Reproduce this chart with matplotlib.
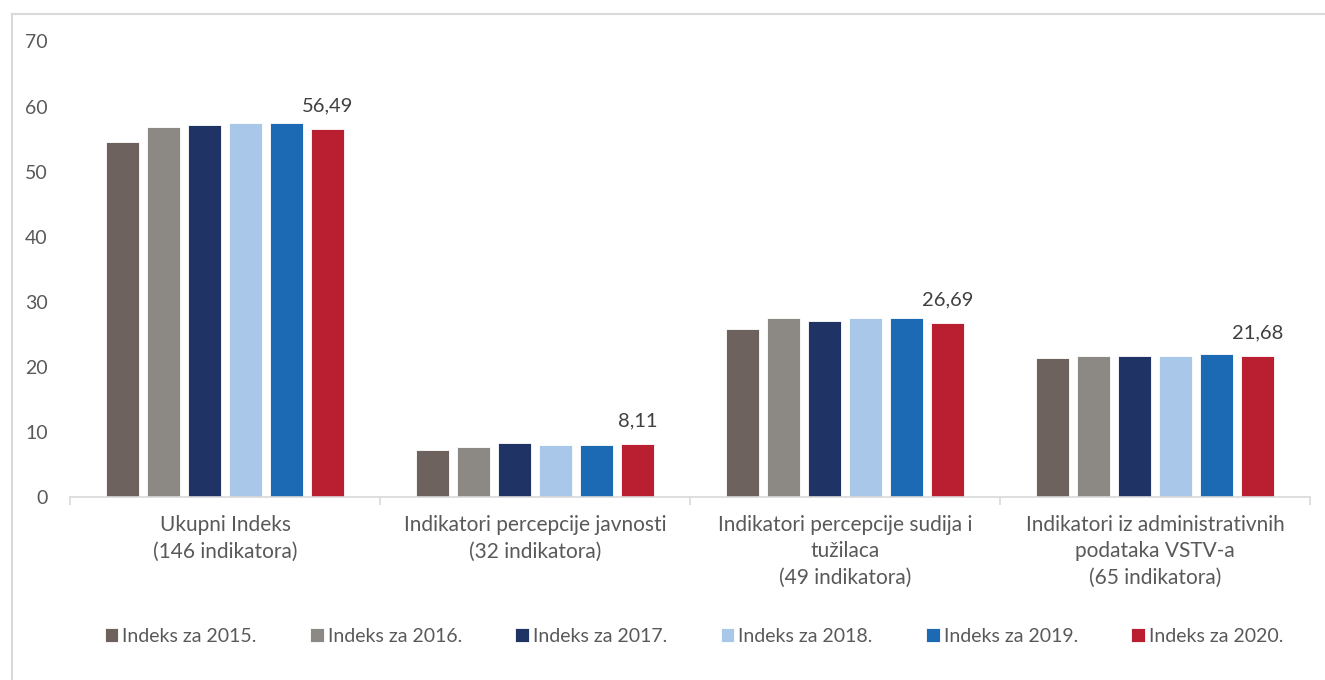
import numpy as np
import matplotlib.pyplot as plt
from matplotlib.lines import Line2D

# podaci
kategorije = ["Ukupni Indeks\n(146 indikatora)",
              "Indikatori percepcije javnosti\n(32 indikatora)",
              "Indikatori percepcije sudija i\ntužilaca\n(49 indikatora)",
              "Indikatori iz administrativnih\npodataka VSTV-a\n(65 indikatora)"]
godine = ["Indeks za 2015.", "Indeks za 2016.", "Indeks za 2017.",
          "Indeks za 2018.", "Indeks za 2019.", "Indeks za 2020."]
v2015 = [54.5, 7.2, 25.8, 21.4]
v2016 = [56.8, 7.7, 27.55, 21.7]
v2017 = [57.1, 8.3, 27.0, 21.7]
v2018 = [57.4, 8.05, 27.55, 21.7]
v2019 = [57.4, 8.05, 27.55, 22.0]
v2020 = [56.49, 8.11, 26.69, 21.68]
boje = ["#6d625e", "#8c8984", "#1f3364", "#a9c7e8", "#1c69b4", "#ba1f31"]

plt.rcParams['font.family'] = ['Lato', 'DejaVu Sans']
tekst = "#595959"

fig = plt.figure(figsize=(13.25, 6.8), dpi=100)
ax = fig.add_axes([70/1325, 1-497/680, 1240/1325, 455.5/680])

x = np.arange(len(kategorije))
korak = 41/310
sirina = 33/310
serije = [v2015, v2016, v2017, v2018, v2019, v2020]
for i, (s, c, g) in enumerate(zip(serije, boje, godine)):
    pomak = (i - 2.5) * korak
    ax.bar(x + pomak, s, sirina, color=c, label=g, edgecolor="white", linewidth=0.6)

# oznake samo za 2020.
for xi, v in zip(x, v2020):
    ax.annotate(f"{v:.2f}".replace(".", ","), (xi + 2.5*korak, v),
                xytext=(0, 10.5), textcoords="offset points",
                ha="center", va="bottom", fontsize=14.5, color="#404040")

ax.set_xlim(-0.5, 3.5)
ax.set_ylim(0, 70)
ax.set_yticks(range(0, 71, 10))
ax.set_xticks(np.arange(-0.5, 3.6, 1), minor=False)
ax.set_xticklabels([])
ax.set_xticks(x, minor=True)
ax.set_xticklabels(kategorije, minor=True, fontsize=15, color=tekst, linespacing=1.4)
ax.tick_params(axis="x", which="major", length=6, color="#d9d9d9", width=1.2)
ax.tick_params(axis="x", which="minor", length=0, pad=13)
ax.tick_params(axis="y", length=0, labelsize=14, labelcolor=tekst, pad=16)
for s in ["left", "right", "top"]:
    ax.spines[s].set_visible(False)
ax.spines["bottom"].set_color("#d9d9d9")
ax.spines["bottom"].set_linewidth(1.2)

fig.legend(loc="center", bbox_to_anchor=(694/1325, 1-636/680), ncol=6,
           frameon=False, fontsize=14, labelcolor=tekst, handlelength=0.7,
           handleheight=0.7, handletextpad=0.2, columnspacing=2.75)

# okvir
fig.add_artist(Line2D([12/1325, 12/1325], [0, 1-14/680], transform=fig.transFigure,
                      color="#d9d9d9", linewidth=1.5))
fig.add_artist(Line2D([12/1325, 1], [1-14/680, 1-14/680], transform=fig.transFigure,
                      color="#d9d9d9", linewidth=1.5))

fig.savefig("out.png", dpi=100, facecolor="white")
